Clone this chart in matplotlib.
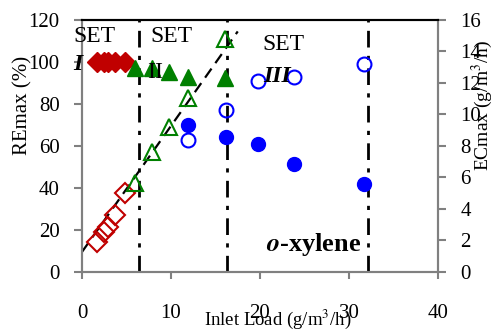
import numpy as np
import matplotlib
matplotlib.use("Agg")
from matplotlib import pyplot as plt

plt.rcParams['font.family'] = ['Liberation Serif', 'DejaVu Serif']
plt.rcParams['mathtext.fontset'] = 'stix'

# set I (red diamonds)
set1_load = [1.7, 2.5, 2.9, 3.7, 4.8]
set1_re = [100, 100, 100, 100, 100]
set1_ec = [1.9, 2.53, 2.85, 3.6, 5.0]

# set II (green triangles)
set2_load = [6.0, 7.9, 9.8, 11.9, 16.1]
set2_re = [97, 97, 95, 93, 92.5]
set2_ec = [5.65, 7.6, 9.2, 11.07, 14.8]

# set III (blue circles)
set3_load = [11.9, 16.2, 19.8, 23.8, 31.7]
set3_re = [70, 64.3, 61, 51.5, 42]
set3_ec = [8.4, 10.27, 12.13, 12.4, 13.2]

# trend line in EC units and set boundaries
fit_x = [0, 17.5]
fit_slope = 0.8
fit_icpt = 1.27
set_bounds = [6.4, 16.3, 32.1]

fig = plt.figure(figsize=(5, 3.32), dpi=100)
ax = fig.add_axes([0.164, 0.181, 0.712, 0.759])
ax2 = ax.twinx()

for b in set_bounds:
    ax.axvline(b, color='black', lw=2, linestyle=(0, (6, 3, 1.5, 3)), zorder=1)

fx = np.array(fit_x)
ax2.plot(fx, fit_icpt + fit_slope * fx, color='black', lw=1.6, linestyle=(0, (5, 3)), zorder=2)

ax.plot(set1_load, set1_re, 'D', color='#c00000', ms=10, zorder=3)
ax.plot(set2_load, set2_re, '^', color='#008000', ms=11, zorder=3)
ax.plot(set3_load, set3_re, 'o', color='#0000ff', ms=10, zorder=3)

ax2.plot(set1_load, set1_ec, 'D', mfc='none', mec='#c00000', mew=1.5, ms=10, zorder=3)
ax2.plot(set2_load, set2_ec, '^', mfc='none', mec='#008000', mew=1.5, ms=11, zorder=3)
ax2.plot(set3_load, set3_ec, 'o', mfc='none', mec='#0000ff', mew=1.5, ms=10, zorder=3)

ax.set_xlim(0, 40)
ax.set_ylim(0, 120)
ax2.set_ylim(0, 16)
ax.set_xticks([0, 10, 20, 30, 40])
ax.set_yticks(range(0, 121, 20))
ax2.set_yticks(range(0, 17, 2))

for a in (ax, ax2):
    for s in ('left', 'bottom', 'right'):
        a.spines[s].set_color('#808080')
        a.spines[s].set_linewidth(1.5)
    a.spines['top'].set_color('black')
    a.spines['top'].set_linewidth(1.5)
ax.tick_params(axis='x', direction='out', length=5, width=1.5, color='#808080', labelsize=15, pad=18)
ax.tick_params(axis='y', direction='out', length=6, width=1.5, color='#808080', labelsize=15, pad=10)
ax2.tick_params(axis='y', direction='out', length=6, width=1.5, color='#808080', labelsize=15, pad=10)

ax.set_ylabel('REmax (%)', fontsize=15)
ax.yaxis.set_label_coords(-0.14, 0.66)
ax2.set_ylabel('ECmax (g/m$^3$/h)', fontsize=14)
ax2.yaxis.set_label_coords(1.088, 0.66)
ax.set_xlabel('Inlet Load (g/m$^3$/h)', fontsize=13.5)
ax.xaxis.set_label_coords(0.55, -0.143)


def px(x, y):
    return x / 500, 1 - y / 332


fig.text(*px(94, 37), 'SET', fontsize=17, ha='center', va='center')
fig.text(*px(78, 65), 'I', fontsize=17, ha='center', va='center', weight='bold', style='italic')
fig.text(*px(171, 37), 'SET', fontsize=17, ha='center', va='center')
fig.text(*px(155, 73), 'II', fontsize=17, ha='center', va='center')
fig.text(*px(283, 45), 'SET', fontsize=17, ha='center', va='center')
fig.text(*px(277, 77), 'III', fontsize=17, ha='center', va='center', weight='bold', style='italic')
fig.text(*px(314, 245), r'$\boldsymbol{o}$-xylene', fontsize=19, ha='center', va='center', weight='bold')

fig.savefig('out.png', dpi=100)
